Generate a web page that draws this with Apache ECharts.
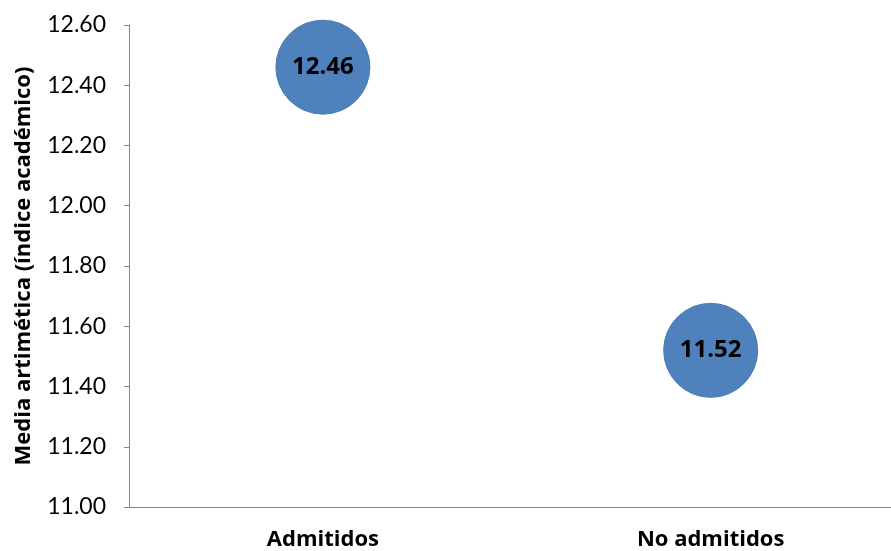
<!DOCTYPE html>
<html><head><meta charset="utf-8">
<script src="https://cdn.jsdelivr.net/npm/echarts@6/dist/echarts.min.js"></script>
<style>html,body{margin:0;padding:0;background:#fff}#c{width:891px;height:551px}</style>
</head><body><div id="c"></div>
<script>
const categories = ["Admitidos", "No admitidos"];
const values = [12.46, 11.52];
const yTicks = { min: 11.0, max: 12.6, step: 0.2 };
const yTitle = "Media artimética (índice académico)";

const chart = echarts.init(document.getElementById('c'), null, {renderer: 'canvas'});
const FONT = 'Lato, "Open Sans", sans-serif';
const BFONT = '"Open Sans", Lato, sans-serif';
chart.setOption({
  animation: false,
  grid: { left: 129, right: 0, top: 25, bottom: 44 },
  xAxis: {
    type: 'value',
    min: 0.5, max: 2.465, interval: 0.5,
    axisLine: { show: true, lineStyle: { color: '#868686', width: 1 } },
    axisTick: { show: false },
    splitLine: { show: false },
    axisLabel: { color: '#000', fontFamily: BFONT, fontWeight: 'bold', fontSize: 22, margin: 22,
      showMaxLabel: false, showMinLabel: false,
      formatter: v => (Math.abs(v - Math.round(v)) < 1e-6 && categories[Math.round(v) - 1]) ? categories[Math.round(v) - 1] : '' }
  },
  yAxis: {
    type: 'value',
    min: yTicks.min, max: yTicks.max, interval: yTicks.step,
    name: yTitle,
    nameLocation: 'middle',
    nameGap: 94,
    nameTextStyle: { color: '#000', fontFamily: BFONT, fontWeight: 'bold', fontSize: 22 },
    axisLine: { show: true, lineStyle: { color: '#868686', width: 1 } },
    axisTick: { show: true, inside: false, length: 5, lineStyle: { color: '#868686' } },
    splitLine: { show: false },
    axisLabel: { color: '#000', fontFamily: FONT, fontSize: 23, margin: 23,
      formatter: v => v.toFixed(2) }
  },
  series: [{
    type: 'scatter',
    data: categories.map((c, i) => [i + 1, values[i]]),
    symbolSize: 94,
    itemStyle: { color: '#4F81BD', borderColor: '#4A7AB3', borderWidth: 1, opacity: 1 },
    label: { show: true, position: 'inside', color: '#000', fontFamily: BFONT,
      fontWeight: 'bold', fontSize: 24, formatter: p => p.value[1].toFixed(2) }
  }]
});
</script></body></html>
